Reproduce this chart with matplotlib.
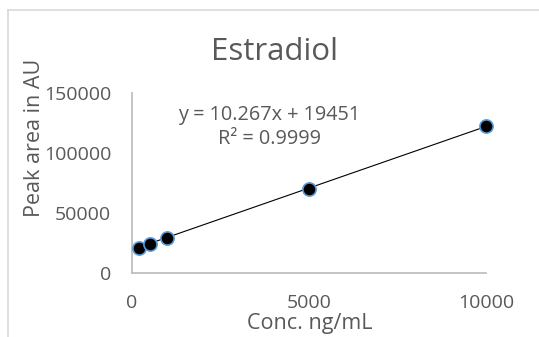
import matplotlib
matplotlib.use("Agg")
import matplotlib.pyplot as plt
from matplotlib.lines import Line2D
import numpy as np

# Data
conc = [200, 500, 1000, 5000, 10000]
area = [21000, 24300, 29500, 70000, 122300]
slope = 10.267
intercept = 19451
eq_text = "y = 10.267x + 19451"
r2_text = "R² = 0.9999"
title = "Estradiol"
xlabel = "Conc. ng/mL"
ylabel = "Peak area in AU"
xticks = [0, 5000, 10000]
yticks = [0, 50000, 100000, 150000]

plt.rcParams['font.family'] = ['Open Sans', 'DejaVu Sans']
W, H = 539, 337
fig = plt.figure(figsize=(W / 100, H / 100), dpi=100)
txt = '#595959'

def fx(px):
    return px / W

def fy(py):
    return 1 - py / H

ax = fig.add_axes([fx(132), fy(273), fx(486) - fx(132), fy(93) - fy(273)])
ax.set_xlim(0, 10000)
ax.set_ylim(0, 150000)
for s in ['top', 'right']:
    ax.spines[s].set_visible(False)
for s in ['left', 'bottom']:
    ax.spines[s].set_color('#BFBFBF')
    ax.spines[s].set_linewidth(1.3)
ax.set_xticks(xticks)
ax.set_yticks(yticks)
ax.set_xticklabels([str(v) for v in xticks])
ax.set_yticklabels([str(v) for v in yticks])
ax.tick_params(axis='both', length=0, labelsize=14, colors=txt)
ax.tick_params(axis='x', pad=15)
ax.tick_params(axis='y', pad=15)

xs = np.array([min(conc), max(conc)])
ax.plot(xs, slope * xs + intercept, color='black', lw=0.8, zorder=2)
ax.plot(conc, area, 'o', ms=9.5, mfc='black', mec='#5B9BD5', mew=1.2, zorder=3,
        clip_on=False)

fig.text(fx(275), fy(52), title, ha='center', va='center', fontsize=22.5, color=txt)
fig.text(fx(269), fy(115), eq_text, ha='center', va='center', fontsize=14.3, color=txt)
fig.text(fx(270), fy(139), r2_text, ha='center', va='center', fontsize=14.3, color=txt)
fig.text(fx(310), fy(324), xlabel, ha='center', va='center', fontsize=15.5, color=txt)
fig.text(fx(35), fy(138), ylabel, ha='center', va='center', fontsize=15.5, color=txt,
         rotation=90)

# chart border (partially cropped)
fig.add_artist(Line2D([fx(8), 1], [fy(10), fy(10)], color='#D9D9D9', lw=1.2))
fig.add_artist(Line2D([fx(8), fx(8)], [fy(10), 0], color='#D9D9D9', lw=1.2))

fig.savefig('out.png', dpi=100)
